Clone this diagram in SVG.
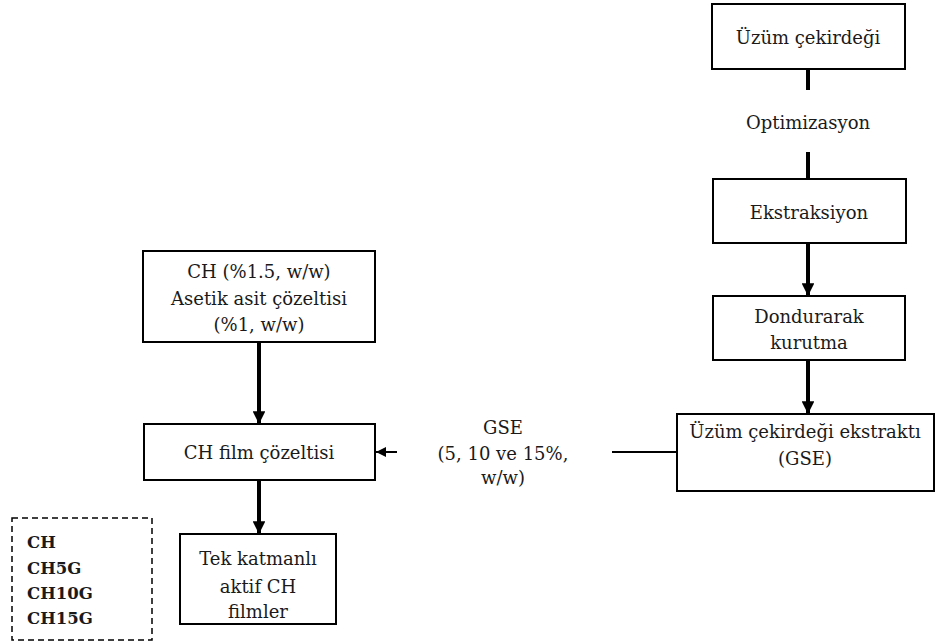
<svg xmlns="http://www.w3.org/2000/svg" width="936" height="641" viewBox="0 0 936 641">
  <style>
    text { font-family: "DejaVu Serif", "Liberation Serif", serif; font-size: 18px; fill: #1a1a1a; text-anchor: middle; }
    .box { fill: #ffffff; stroke: #000000; stroke-width: 2; }
    .thick { stroke: #000000; stroke-width: 4; fill: none; }
    .thin { stroke: #000000; stroke-width: 2; fill: none; }
    .dash { fill: none; stroke: #000000; stroke-width: 1.5; stroke-dasharray: 6 4; }
    .bold { font-size: 16.5px; font-weight: bold; text-anchor: start; }
  </style>
  <defs>
    <marker id="arrow" viewBox="0 0 10 10" refX="10" refY="5" markerWidth="3.2" markerHeight="3.2" orient="auto" markerUnits="strokeWidth">
      <path d="M0,0 L10,5 L0,10 Z" fill="#000000"/>
    </marker>
    <marker id="arrowSmall" viewBox="0 0 10 10" refX="10" refY="5" markerWidth="5" markerHeight="5" orient="auto" markerUnits="strokeWidth">
      <path d="M0,0 L10,5 L0,10 Z" fill="#000000"/>
    </marker>
  </defs>

  <g id="connectors">
    <line class="thick" x1="808" y1="69" x2="808" y2="90"/>
    <line class="thick" x1="808" y1="152" x2="808" y2="179"/>
    <line class="thick" x1="808" y1="243" x2="808" y2="296" marker-end="url(#arrow)"/>
    <line class="thick" x1="808" y1="360" x2="808" y2="414" marker-end="url(#arrow)"/>
    <line class="thin" x1="612" y1="452" x2="677" y2="452"/>
    <line class="thin" x1="397" y1="452" x2="376" y2="452" marker-end="url(#arrowSmall)"/>
    <line class="thick" x1="259" y1="342" x2="259" y2="424" marker-end="url(#arrow)"/>
    <line class="thick" x1="259" y1="480" x2="259" y2="534" marker-end="url(#arrow)"/>
  </g>

  <g id="node-seed">
    <rect class="box" x="712" y="4" width="193" height="65"/>
    <text x="808" y="44">Üzüm çekirdeği</text>
  </g>

  <g id="label-optimization">
    <text x="808" y="129">Optimizasyon</text>
  </g>

  <g id="node-extraction">
    <rect class="box" x="713" y="179" width="193" height="64"/>
    <text x="809" y="219">Ekstraksiyon</text>
  </g>

  <g id="node-freeze-dry">
    <rect class="box" x="713" y="296" width="192" height="64"/>
    <text x="809" y="323">Dondurarak</text>
    <text x="809" y="349">kurutma</text>
  </g>

  <g id="node-gse">
    <rect class="box" x="677" y="414" width="257" height="77"/>
    <text x="805" y="438">Üzüm çekirdeği ekstraktı</text>
    <text x="805" y="465">(GSE)</text>
  </g>

  <g id="label-gse">
    <text x="503" y="434">GSE</text>
    <text x="503" y="460">(5, 10 ve 15%,</text>
    <text x="503" y="484">w/w)</text>
  </g>

  <g id="node-ch-solution">
    <rect class="box" x="143" y="251" width="232" height="91"/>
    <text x="259" y="278">CH (%1.5, w/w)</text>
    <text x="259" y="305">Asetik asit çözeltisi</text>
    <text x="259" y="331">(%1, w/w)</text>
  </g>

  <g id="node-film-solution">
    <rect class="box" x="144" y="424" width="231" height="56"/>
    <text x="259" y="459">CH film çözeltisi</text>
  </g>

  <g id="node-films">
    <rect class="box" x="180" y="534" width="156" height="90"/>
    <text x="258" y="565">Tek katmanlı</text>
    <text x="258" y="593">aktif CH</text>
    <text x="258" y="618">filmler</text>
  </g>

  <g id="node-samples">
    <rect class="dash" x="12" y="518" width="140" height="122"/>
    <text class="bold" x="27" y="548">CH</text>
    <text class="bold" x="27" y="574">CH5G</text>
    <text class="bold" x="27" y="599">CH10G</text>
    <text class="bold" x="27" y="624">CH15G</text>
  </g>
</svg>
